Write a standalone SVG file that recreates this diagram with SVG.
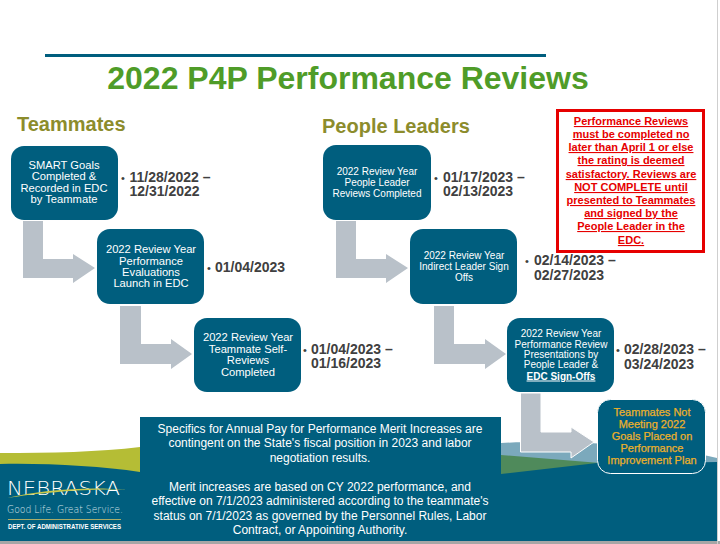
<svg xmlns="http://www.w3.org/2000/svg" width="720" height="544" viewBox="0 0 720 544">
<style>
text{font-family:"Liberation Sans",Arial,sans-serif;text-anchor:middle}
.n{fill:#005e7e}
.t{fill:#fff;font-size:11.200px}
.s{fill:#fff;font-size:10px}
.d{fill:#404040;font-size:14px;font-weight:bold;text-anchor:start}
.b{font-size:11px;font-weight:normal}
.h{fill:#8c8c2c;font-size:20px;font-weight:bold;text-anchor:start}
.a{fill:#b9c1c9}
.w{fill:#fff;font-size:12px}
.r{fill:#e60000;font-size:11px;font-weight:bold;text-decoration:underline}
.y{fill:#ecb02a;stroke:#ecb02a;stroke-width:.25px;font-size:11px}
</style>
<rect width="720" height="544" fill="#fff"/>
<g id="background">
<path d="M0 453C50 453 100 452 140 447V474H0Z" fill="#b5bd35"/>
<path d="M0 464C45 463 100 466 140 472V541H0Z" fill="#005e7e"/>
<path d="M501 443C560 440 660 444 717 458V470H501Z" fill="#7ba9bc"/>
<path d="M501 455L600 463V476H501Z" fill="#4f8a5b"/>
<path d="M501 474L597 463C640 462 680 463 717 462V541H501Z" fill="#005e7e"/>
<rect x="140" y="417" width="361" height="124" fill="#005e7e"/>
<rect x="0" y="541" width="720" height="3" fill="#a6a6a6"/>
<rect x="717" y="0" width="1" height="544" fill="#cfcfcf"/>
</g>
<g id="header">
<rect x="45" y="54" width="501" height="3" fill="#005e7e"/>
<text x="348" y="89" font-size="32" font-weight="bold" fill="#4f9c28">2022 P4P Performance Reviews</text>
<text class="h" x="17" y="131">Teammates</text>
<text class="h" x="322" y="133">People Leaders</text>
</g>
<g id="connectors">
<path class="a" d="M23 221H43V259H73V254L95 268L73 283V278H23Z"/>
<path class="a" d="M120 306H141V344H171V339L192 354L171 369V364H120Z"/>
<path class="a" d="M336 221H356V259H386V254L408 268L386 283V278H336Z"/>
<path class="a" d="M434 306H454V344H485V339L506 354L485 369V364H434Z"/>
<path class="a" stroke="#fff" stroke-width="1" d="M520.500 393H541V432H571V427L594 442L571 458V452H520.500Z"/>
</g>
<g id="n1"><rect class="n" x="11" y="146" width="107" height="74" rx="13"/>
<text class="t"><tspan x="64" y="168.500">SMART Goals</tspan><tspan x="64" y="180">Completed &amp;</tspan><tspan x="64" y="192">Recorded in EDC</tspan><tspan x="64" y="203">by Teammate</tspan></text></g>
<text class="d" y="182"><tspan class="b" x="121">•</tspan><tspan x="129.500">11/28/2022 –</tspan><tspan x="129.500" y="196">12/31/2022</tspan></text>
<g id="n2"><rect class="n" x="97" y="229" width="107" height="75" rx="13"/>
<text class="t"><tspan x="151" y="253">2022 Review Year</tspan><tspan x="151" y="264.500">Performance</tspan><tspan x="151" y="276">Evaluations</tspan><tspan x="151" y="287">Launch in EDC</tspan></text></g>
<text class="d" y="272"><tspan class="b" x="207">•</tspan><tspan x="215">01/04/2023</tspan></text>
<g id="n3"><rect class="n" x="194" y="318" width="107" height="74" rx="13"/>
<text class="t"><tspan x="248" y="341">2022 Review Year</tspan><tspan x="248" y="353">Teammate Self-</tspan><tspan x="248" y="364">Reviews</tspan><tspan x="248" y="376">Completed</tspan></text></g>
<text class="d" y="354"><tspan class="b" x="303">•</tspan><tspan x="311">01/04/2023 –</tspan><tspan x="311" y="368">01/16/2023</tspan></text>
<g id="p1"><rect class="n" x="323" y="145" width="108" height="75" rx="13"/>
<text class="s"><tspan x="377" y="175">2022 Review Year</tspan><tspan x="377" y="186">People Leader</tspan><tspan x="377" y="196.500">Reviews Completed</tspan></text></g>
<text class="d" y="182"><tspan class="b" x="434">•</tspan><tspan x="443">01/17/2023 –</tspan><tspan x="443" y="196">02/13/2023</tspan></text>
<g id="p2"><rect class="n" x="410" y="229" width="107" height="75" rx="13"/>
<text class="s"><tspan x="464" y="259">2022 Review Year</tspan><tspan x="464" y="270">Indirect Leader Sign</tspan><tspan x="464" y="280.500">Offs</tspan></text></g>
<text class="d" y="265"><tspan class="b" x="525">•</tspan><tspan x="534">02/14/2023 –</tspan><tspan x="534" y="280">02/27/2023</tspan></text>
<g id="p3"><rect class="n" x="507" y="318" width="107" height="74" rx="13"/>
<text class="s"><tspan x="561" y="337">2022 Review Year</tspan><tspan x="561" y="348">Performance Review</tspan><tspan x="561" y="358">Presentations by</tspan><tspan x="561" y="368">People Leader &amp;</tspan><tspan x="561" y="379.500" font-weight="bold" text-decoration="underline">EDC Sign-Offs</tspan></text></g>
<text class="d" y="354"><tspan class="b" x="616">•</tspan><tspan x="624">02/28/2023 –</tspan><tspan x="624" y="369">03/24/2023</tspan></text>
<g id="final"><rect class="n" stroke="#fff" x="597.500" y="399.500" width="108" height="74" rx="13"/>
<text class="y"><tspan x="652" y="416">Teammates Not</tspan><tspan x="652" y="428">Meeting 2022</tspan><tspan x="652" y="440">Goals Placed on</tspan><tspan x="652" y="452">Performance</tspan><tspan x="652" y="464">Improvement Plan</tspan></text></g>
<g id="notice"><rect x="557.500" y="110.500" width="146" height="141" fill="#fff" stroke="#e60000" stroke-width="3"/>
<text class="r"><tspan x="631" y="125">Performance Reviews</tspan><tspan x="631" y="138">must be completed no</tspan><tspan x="631" y="151">later than April 1 or else</tspan><tspan x="631" y="164">the rating is deemed</tspan><tspan x="631" y="178">satisfactory. Reviews are</tspan><tspan x="631" y="191">NOT COMPLETE until</tspan><tspan x="631" y="204">presented to Teammates</tspan><tspan x="631" y="217">and signed by the</tspan><tspan x="631" y="230">People Leader in the</tspan><tspan x="631" y="244">EDC.</tspan></text></g>
<g id="note"><text class="w"><tspan x="320" y="433">Specifics for Annual Pay for Performance Merit Increases are</tspan><tspan x="320" y="447">contingent on the State's fiscal position in 2023 and labor</tspan><tspan x="320" y="462">negotiation results.</tspan><tspan x="320" y="491">Merit increases are based on CY 2022 performance, and</tspan><tspan x="320" y="505">effective on 7/1/2023 administered according to the teammate's</tspan><tspan x="320" y="520">status on 7/1/2023 as governed by the Personnel Rules,  Labor</tspan><tspan x="320" y="534">Contract, or Appointing Authority.</tspan></text></g>
<g id="logo">
<text x="7" y="495" font-size="19" font-weight="200" fill="#fff" style="text-anchor:start;font-family:'DejaVu Sans',sans-serif" textLength="113" lengthAdjust="spacingAndGlyphs">NEBRASKA</text>
<path d="M7 498C40 490 90 486 127 490C90 488 40 493 7 498Z" fill="#c8c84a"/>
<text x="7" y="513" font-size="10" font-weight="200" fill="#d3e0e6" style="text-anchor:start;font-family:'DejaVu Sans',sans-serif" textLength="116" lengthAdjust="spacingAndGlyphs">Good Life. Great Service.</text>
<rect x="8" y="519" width="113" height="1" fill="#a8ad6a"/>
<text x="8" y="529" font-size="6.500" font-weight="bold" fill="#fff" style="text-anchor:start" textLength="113" lengthAdjust="spacingAndGlyphs">DEPT. OF ADMINISTRATIVE SERVICES</text>
</g>
</svg>
